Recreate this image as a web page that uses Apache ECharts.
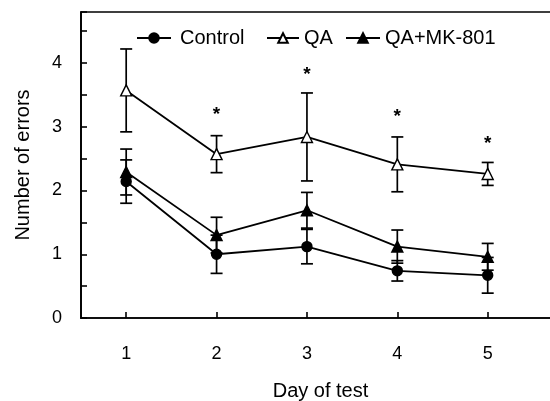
<!DOCTYPE html>
<html><head><meta charset="utf-8">
<script src="https://cdn.jsdelivr.net/npm/echarts@6/dist/echarts.min.js"></script>
<style>html,body{margin:0;padding:0;background:#fff}#c{width:550px;height:401px}</style>
</head><body><div id="c"></div>
<script>
var days = [1, 2, 3, 4, 5];
var controlMean = [2.14, 1.0, 1.12, 0.74, 0.67];
var controlErr  = [0.34, 0.30, 0.27, 0.16, 0.28];
var qaMean = [3.57, 2.57, 2.84, 2.41, 2.26];
var qaErr  = [0.65, 0.29, 0.69, 0.43, 0.18];
var mkMean = [2.29, 1.30, 1.69, 1.12, 0.96];
var mkErr  = [0.36, 0.28, 0.28, 0.26, 0.21];
var starDays = [2, 3, 4, 5];
var starY = [3.23, 3.86, 3.19, 2.78];
var yTicks = [0, 1, 2, 3, 4];

var FONT = 'Liberation Sans, Arial, sans-serif';
function pts(m){ return days.map(function(d,i){ return [d, m[i]]; }); }
function errs(m,e){ return days.map(function(d,i){ return [d, m[i]-e[i], m[i]+e[i]]; }); }
function errRender(params, api){
  var x = api.value(0);
  var lo = api.coord([x, api.value(1)]);
  var hi = api.coord([x, api.value(2)]);
  var w = 6;
  var st = {stroke:'#000', lineWidth:1.7};
  return {type:'group', children:[
    {type:'line', shape:{x1:lo[0],y1:lo[1],x2:hi[0],y2:hi[1]}, style:st},
    {type:'line', shape:{x1:lo[0]-w,y1:lo[1],x2:lo[0]+w,y2:lo[1]}, style:st},
    {type:'line', shape:{x1:hi[0]-w,y1:hi[1],x2:hi[0]+w,y2:hi[1]}, style:st}
  ]};
}
function lineSeries(name, m, sym, fill, size){
  return {name:name, type:'line', data:pts(m), symbol:sym, symbolSize:size, z:5,
    lineStyle:{color:'#000', width:1.8}, itemStyle:{color:fill, borderColor:'#000', borderWidth:1.4},
    emphasis:{disabled:true}, animation:false};
}
var chart = echarts.init(document.getElementById('c'));
function leg(name, left, w, pad){
  return {orient:'horizontal', left:left, top:28, padding:0, itemWidth:w, itemHeight:12, selectedMode:false,
    textStyle:{fontFamily:FONT, fontSize:20, color:'#000', padding:[0,0,0,pad]}, data:[name]};
}
chart.setOption({
  animation:false,
  grid:{left:81, right:-10, top:12, bottom:83, outerBoundsMode:'none', containLabel:false, show:true, borderColor:'#000', borderWidth:1.7, backgroundColor:'transparent'},
  legend:[ leg('Control', 136, 34, 4), leg('QA', 266, 32, 0), leg('QA+MK-801', 345, 34, 0) ],
  xAxis:{type:'value', min:0.5, max:5.8, name:'Day of test', nameLocation:'middle', nameGap:63,
    nameTextStyle:{fontFamily:FONT, fontSize:20, color:'#000'},
    axisLine:{lineStyle:{color:'#000', width:1.7}},
    axisTick:{inside:true, length:6, lineStyle:{color:'#000', width:1.6}, customValues:days},
    axisLabel:{customValues:days, margin:27, fontFamily:FONT, fontSize:18, color:'#000'},
    splitLine:{show:false}},
  yAxis:{type:'value', min:0, max:4.8, interval:0.5, name:'Number of errors', nameLocation:'middle', nameGap:48,
    nameTextStyle:{fontFamily:FONT, fontSize:20, color:'#000'},
    axisLine:{show:true, lineStyle:{color:'#000', width:1.7}},
    axisTick:{inside:true, length:6, lineStyle:{color:'#000', width:1.6}},
    axisLabel:{margin:19, fontFamily:FONT, fontSize:18, color:'#000',
      formatter:function(v){ return yTicks.indexOf(v) >= 0 ? String(v) : ''; }},
    splitLine:{show:false}},
  series:[
    {type:'custom', renderItem:errRender, data:errs(controlMean, controlErr), z:3, silent:true},
    {type:'custom', renderItem:errRender, data:errs(qaMean, qaErr), z:3, silent:true},
    {type:'custom', renderItem:errRender, data:errs(mkMean, mkErr), z:3, silent:true},
    lineSeries('Control', controlMean, 'circle', '#000', 10),
    lineSeries('QA', qaMean, 'triangle', '#fff', 11),
    lineSeries('QA+MK-801', mkMean, 'triangle', '#000', 11),
    {type:'custom', silent:true, z:6, data:starDays.map(function(d,i){return [d, starY[i]];}),
      renderItem:function(params, api){
        var p = api.coord([api.value(0), api.value(1)]);
        return {type:'text', x:p[0], y:p[1]-7, style:{text:'*', fontFamily:FONT, fontSize:19, fontWeight:'bold', fill:'#000', align:'center', verticalAlign:'top'}};
      }}
  ]
});
</script></body></html>
